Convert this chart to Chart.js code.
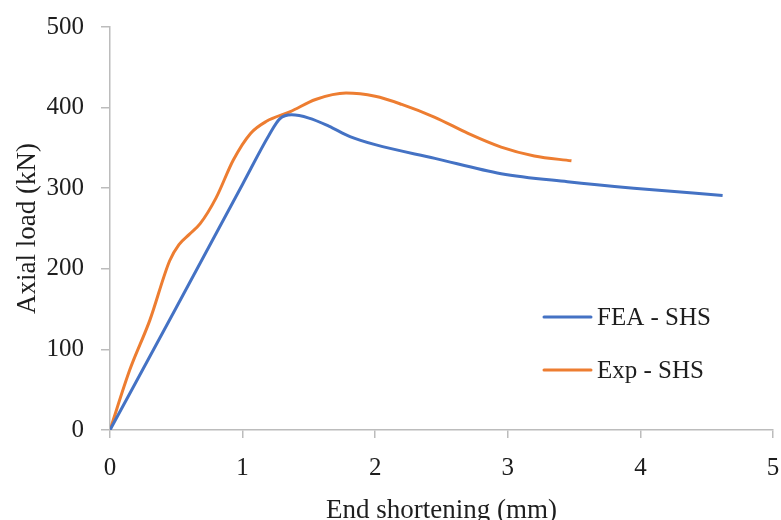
<!DOCTYPE html>
<html>
<head>
<meta charset="utf-8">
<script src="https://cdn.jsdelivr.net/npm/chart.js@4.4.1/dist/chart.umd.min.js"></script>
<style>
  html, body { margin: 0; padding: 0; background: #fff; }
  #wrap { width: 781px; height: 520px; }
</style>
</head>
<body>
<div id="wrap"><canvas id="loadChart"></canvas></div>
<script>
// End shortening (mm) vs axial load (kN)
const feaX = [0, 0.5, 1.0, 1.2, 1.28, 1.37, 1.5, 1.65, 1.81, 2.0, 2.45, 2.95, 3.45, 3.95, 4.62];
const feaY = [0, 152, 305, 366, 386, 391, 387, 377, 364, 354, 337, 318, 308, 300, 291];

const expX = [0, 0.15, 0.30, 0.45, 0.52, 0.6, 0.68, 0.8, 0.93, 1.06, 1.18, 1.36, 1.55, 1.78, 2.0, 2.2, 2.45, 2.7, 2.95, 3.2, 3.48];
const expY = [0, 75, 136, 210, 230, 243, 256, 288, 335, 368, 383, 395, 410, 418, 414, 404, 388, 368, 351, 340, 334];

const seriesNames = ['FEA - SHS', 'Exp - SHS'];
const seriesColors = ['#4472C4', '#ED7D31'];

const xTitle = 'End shortening (mm)';
const yTitle = 'Axial load (kN)';

const FONT = "'Liberation Serif', 'Times New Roman', serif";
const TEXT = '#1e1e1e';
const AXIS = '#bcbcbc';

function toPoints(xs, ys) {
    return xs.map((x, i) => ({ x: x, y: ys[i] }));
}

// legend drawn inside the plot, lines + labels
const insideLegend = {
    id: 'insideLegend',
    afterDraw(chart) {
        const ctx = chart.ctx;
        const rows = [317, 370];
        ctx.save();
        ctx.font = '25px ' + FONT;
        ctx.textAlign = 'left';
        ctx.textBaseline = 'middle';
        chart.data.datasets.forEach((ds, i) => {
            const y = rows[i];
            ctx.strokeStyle = ds.borderColor;
            ctx.lineWidth = 3;
            ctx.lineCap = 'round';
            ctx.beginPath();
            ctx.moveTo(544, y);
            ctx.lineTo(591, y);
            ctx.stroke();
            ctx.fillStyle = TEXT;
            ctx.fillText(ds.label, 597, y + 1);
        });
        ctx.restore();
    }
};

new Chart(document.getElementById('loadChart'), {
    type: 'scatter',
    data: {
        datasets: [
            {
                label: seriesNames[0],
                data: toPoints(feaX, feaY),
                borderColor: seriesColors[0],
                backgroundColor: seriesColors[0],
                showLine: true,
                borderWidth: 3,
                pointRadius: 0,
                cubicInterpolationMode: 'monotone'
            },
            {
                label: seriesNames[1],
                data: toPoints(expX, expY),
                borderColor: seriesColors[1],
                backgroundColor: seriesColors[1],
                showLine: true,
                borderWidth: 3,
                pointRadius: 0,
                cubicInterpolationMode: 'monotone'
            }
        ]
    },
    options: {
        responsive: true,
        maintainAspectRatio: false,
        animation: false,
        layout: { padding: { left: 8, right: 8, top: 27, bottom: 0 } },
        plugins: {
            legend: { display: false },
            tooltip: { enabled: false }
        },
        scales: {
            x: {
                type: 'linear',
                min: 0,
                max: 5,
                afterFit: s => { s.height = 90; s.paddingRight = 0; s.paddingLeft = 0; },
                ticks: { stepSize: 1, color: TEXT, font: { family: FONT, size: 25 }, padding: 15 },
                grid: { drawOnChartArea: false, tickLength: 8, color: AXIS, lineWidth: 1.5 },
                border: { color: AXIS, width: 1.5 },
                title: { display: true, text: xTitle, color: TEXT, padding: { top: 0, bottom: -4 }, font: { family: FONT, size: 27, lineHeight: 1.0 } }
            },
            y: {
                min: 0,
                max: 500,
                afterFit: s => { s.width = 102; s.paddingTop = 0; s.paddingBottom = 0; },
                ticks: { stepSize: 100, color: TEXT, font: { family: FONT, size: 25 }, padding: 17 },
                grid: { drawOnChartArea: false, tickLength: 9, color: AXIS, lineWidth: 1.5 },
                border: { color: AXIS, width: 1.5 },
                title: { display: true, text: yTitle, color: TEXT, font: { family: FONT, size: 27 } }
            }
        }
    },
    plugins: [insideLegend]
});
</script>
</body>
</html>
